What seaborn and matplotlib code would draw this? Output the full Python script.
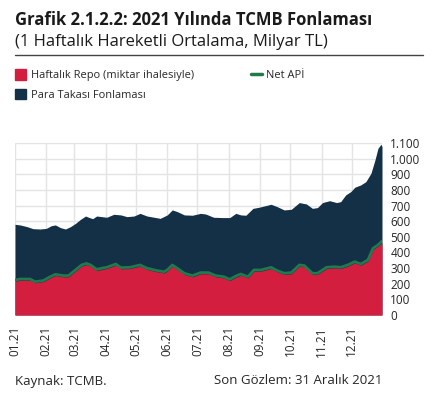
import pandas as pd
import numpy as np
import seaborn as sns
import matplotlib.pyplot as plt
from matplotlib.patches import Patch
from matplotlib.lines import Line2D
from matplotlib.ticker import FuncFormatter

# total funding (top of dark area), 1 week moving average, billion TL
total_dates = ["2021-01-01", "2021-01-06", "2021-01-13", "2021-01-19", "2021-01-26",
               "2021-02-01", "2021-02-06", "2021-02-10", "2021-02-15", "2021-02-20",
               "2021-02-25", "2021-03-02", "2021-03-07", "2021-03-12", "2021-03-15",
               "2021-03-19", "2021-03-23", "2021-03-28", "2021-04-02", "2021-04-09",
               "2021-04-16", "2021-04-22", "2021-04-29", "2021-05-05", "2021-05-12",
               "2021-05-19", "2021-05-25", "2021-06-01", "2021-06-06", "2021-06-11",
               "2021-06-18", "2021-06-26", "2021-07-04", "2021-07-09", "2021-07-17",
               "2021-07-26", "2021-08-02", "2021-08-08", "2021-08-13", "2021-08-18",
               "2021-08-25", "2021-08-31", "2021-09-05", "2021-09-12", "2021-09-18",
               "2021-09-25", "2021-10-02", "2021-10-10", "2021-10-17", "2021-10-23",
               "2021-10-28", "2021-11-02", "2021-11-09", "2021-11-16", "2021-11-20",
               "2021-11-25", "2021-11-30", "2021-12-04", "2021-12-10", "2021-12-15",
               "2021-12-20", "2021-12-24", "2021-12-27", "2021-12-30", "2021-12-31"]
total_vals = [580, 576, 565, 552, 550, 554, 571, 576, 559, 550,
              565, 586, 612, 633, 625, 616, 633, 629, 625, 644,
              640, 629, 633, 650, 633, 625, 618, 640, 672, 661,
              640, 638, 650, 646, 625, 623, 623, 650, 640, 638,
              682, 689, 697, 708, 693, 672, 676, 719, 710, 682,
              687, 719, 731, 719, 725, 768, 789, 817, 832, 853,
              906, 991, 1066, 1092, 1077]

# weekly repo and net API
api_dates = ["2021-01-01", "2021-01-06", "2021-01-16", "2021-01-21", "2021-01-29",
             "2021-02-05", "2021-02-10", "2021-02-18", "2021-02-23", "2021-03-02",
             "2021-03-08", "2021-03-13", "2021-03-17", "2021-03-23", "2021-03-28",
             "2021-04-02", "2021-04-11", "2021-04-16", "2021-04-25", "2021-05-05",
             "2021-05-12", "2021-05-22", "2021-05-29", "2021-06-01", "2021-06-06",
             "2021-06-11", "2021-06-18", "2021-06-26", "2021-07-04", "2021-07-12",
             "2021-07-19", "2021-07-27", "2021-08-02", "2021-08-08", "2021-08-13",
             "2021-08-20", "2021-08-26", "2021-09-02", "2021-09-12", "2021-09-18",
             "2021-09-25", "2021-10-02", "2021-10-10", "2021-10-15", "2021-10-23",
             "2021-10-28", "2021-11-06", "2021-11-14", "2021-11-20", "2021-11-27",
             "2021-12-04", "2021-12-10", "2021-12-17", "2021-12-22", "2021-12-27",
             "2021-12-31"]
net_api = [224, 230, 230, 213, 220, 245, 260, 252, 252, 288,
           320, 330, 320, 292, 299, 305, 326, 303, 305, 320,
           299, 284, 277, 288, 320, 299, 267, 252, 271, 271,
           252, 245, 228, 249, 262, 245, 288, 288, 305, 284,
           267, 271, 320, 316, 267, 267, 305, 309, 305, 320,
           341, 326, 352, 426, 448, 473]
repo = [216, 222, 222, 206, 213, 237, 252, 244, 244, 280,
        312, 322, 312, 284, 291, 297, 318, 295, 297, 312,
        291, 276, 269, 280, 312, 291, 259, 244, 263, 263,
        244, 237, 220, 241, 254, 237, 280, 280, 297, 276,
        259, 263, 312, 308, 259, 259, 297, 301, 297, 312,
        333, 318, 344, 418, 440, 462]

month_ticks = ["2021-01-01", "2021-02-01", "2021-03-01", "2021-04-01", "2021-05-01",
               "2021-06-01", "2021-07-01", "2021-08-01", "2021-09-01", "2021-10-01",
               "2021-11-01", "2021-12-01"]
month_labels = ["01.21", "02.21", "03.21", "04.21", "05.21", "06.21",
                "07.21", "08.21", "09.21", "10.21", "11.21", "12.21"]

red = "#D41E40"
navy = "#133046"
green = "#1F7A4C"

sns.set_style("white")
plt.rcParams['font.family'] = ['Open Sans', 'DejaVu Sans']

df_total = pd.DataFrame({'date': pd.to_datetime(total_dates), 'value': total_vals})
df_api = pd.DataFrame({'date': pd.to_datetime(api_dates), 'repo': repo, 'net_api': net_api})

fig = plt.figure(figsize=(4.32, 3.99), dpi=100)
ax = fig.add_axes([15 / 432, 1 - 315 / 399, 367 / 432, 172 / 399])

ax.fill_between(df_total['date'], 0, df_total['value'], color=navy, lw=0, zorder=2)
ax.fill_between(df_api['date'], 0, df_api['repo'], color=red, lw=0, zorder=3)
sns.lineplot(data=df_api, x='date', y='net_api', ax=ax, color=green, lw=2, zorder=4)

ax.set_xlim(pd.Timestamp("2021-01-01"), pd.Timestamp("2021-12-31"))
ax.set_ylim(0, 1100)
ax.set_yticks(np.arange(0, 1101, 100))
ax.yaxis.set_major_formatter(FuncFormatter(lambda v, p: f"{int(v):,}".replace(",", ".")))
ax.yaxis.tick_right()
ax.set_xticks(pd.to_datetime(month_ticks))
ax.set_xticklabels(month_labels, rotation=90)
ax.tick_params(axis='both', length=0, labelsize=8.5, labelcolor="#262626")
ax.tick_params(axis='y', pad=6)
ax.tick_params(axis='x', pad=8)
ax.set_xlabel("")
ax.set_ylabel("")
ax.grid(True, color="#e4e4e4", lw=1)
ax.set_axisbelow(True)
for s in ax.spines.values():
    s.set_visible(False)

# title block
fig.text(15 / 432, 1 - 20 / 399, "Grafik 2.1.2.2: 2021 Yılında TCMB Fonlaması",
         fontsize=12, fontweight='bold', color="#1a1a1a", va='center', ha='left')
fig.text(15 / 432, 1 - 42 / 399, "(1 Haftalık Hareketli Ortalama, Milyar TL)",
         fontsize=12, color="#1a1a1a", va='center', ha='left')
fig.add_artist(Line2D([15 / 432, 423 / 432], [1 - 55 / 399, 1 - 55 / 399],
                      color="#444444", lw=1))

handles = [Patch(color=red, label="Haftalık Repo (miktar ihalesiyle)"),
           Patch(color=navy, label="Para Takası Fonlaması"),
           Line2D([], [], color=green, lw=2.5, label="Net APİ")]
fig.legend(handles=handles, ncol=2, loc='upper left', bbox_to_anchor=(11 / 432, 1 - 65 / 399),
           frameon=False, fontsize=7.9, handlelength=1.0, handleheight=1.05,
           handletextpad=0.4, columnspacing=5.2, labelspacing=0.7, borderaxespad=0)

# footer
fig.text(15 / 432, 1 - 381 / 399, "Kaynak: TCMB.", fontsize=9.5, color="#262626",
         va='center', ha='left')
fig.text(382 / 432, 1 - 381 / 399, "Son Gözlem: 31 Aralık 2021", fontsize=9.5,
         color="#262626", va='center', ha='right')

plt.savefig("out.png", dpi=100)
plt.close()
